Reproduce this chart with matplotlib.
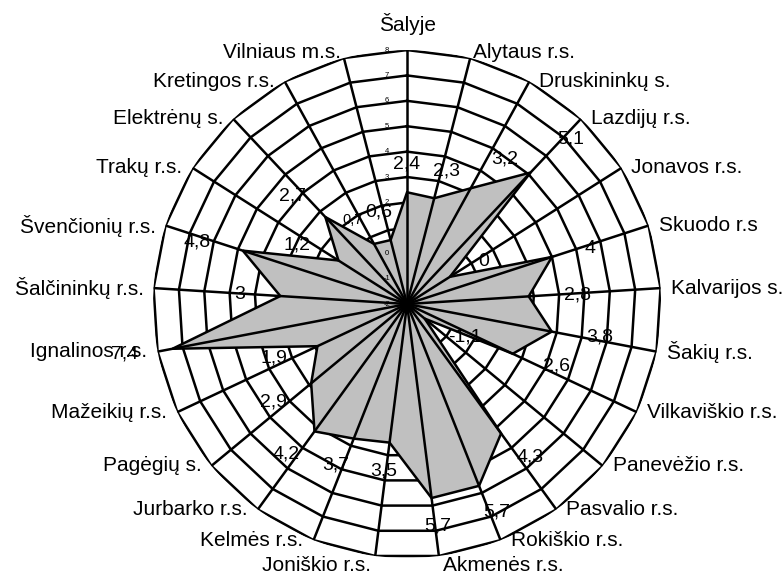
import numpy as np
import matplotlib
matplotlib.use("Agg")
import matplotlib.pyplot as plt

plt.rcParams['font.family'] = ['Liberation Sans', 'DejaVu Sans']

categories = ["Šalyje", "Alytaus r.s.", "Druskininkų s.", "Lazdijų r.s.", "Jonavos r.s.",
              "Skuodo r.s", "Kalvarijos s.", "Šakių r.s.", "Vilkaviškio r.s.", "Panevėžio r.s.",
              "Pasvalio r.s.", "Rokiškio r.s.", "Akmenės r.s.", "Joniškio r.s.", "Kelmės r.s.",
              "Jurbarko r.s.", "Pagėgių s.", "Mažeikių r.s.", "Ignalinos r.s.", "Šalčininkų r.s.",
              "Švenčionių r.s.", "Trakų r.s.", "Elektrėnų s.", "Kretingos r.s.", "Vilniaus m.s."]
values = [2.4, 2.3, 3.2, 5.1, 0.0, 4.0, 2.8, 3.8, 2.6, -1.1,
          4.3, 5.7, 5.7, 3.5, 3.7, 4.2, 2.9, 1.9, 7.4, 3.0,
          4.8, 1.2, 2.7, 0.7, 0.6]
ring_levels = [-1, 0, 1, 2, 3, 4, 5, 6, 7, 8]
tick_labels_shown = [-2, -1, 0, 2, 3, 4, 5, 6, 7, 8]
r_min, r_max = -2, 8


def fmt(v):
    return f"{v:g}".replace('.', ',')


n = len(categories)
theta = np.linspace(0, 2 * np.pi, n, endpoint=False)
theta_c = np.append(theta, theta[0])
vals_c = np.append(values, values[0])

fig = plt.figure(figsize=(7.84, 5.72), dpi=100)
ax = fig.add_axes([0.1952, 0.0245, 0.648, 0.888], projection='polar')
ax.set_theta_zero_location('N')
ax.set_theta_direction(-1)
ax.set_ylim(r_min, r_max)
ax.set_axis_off()

lw = 1.8
# polygon rings
for lev in ring_levels:
    ax.plot(theta_c, [lev] * len(theta_c), color='black', lw=lw, zorder=1,
            solid_joinstyle='miter')
# data polygon
ax.fill(theta_c, vals_c, facecolor='#C0C0C0', edgecolor='black', lw=lw, zorder=2,
        joinstyle='miter')
# spokes
for t in theta:
    ax.plot([t, t], [r_min, r_max], color='black', lw=lw, zorder=3)

# radial tick labels
for lev in tick_labels_shown:
    ax.annotate(str(lev), xy=(0, lev), xytext=(-20, 0), textcoords='offset pixels',
                ha='center', va='center', fontsize=5.5, zorder=6, annotation_clip=False)

# category labels
for t, name in zip(theta, categories):
    dx, dy = np.sin(t), np.cos(t)
    if dy > 0.99:
        off, ha, va = (0, 15), 'center', 'bottom'
    elif dy > 0.9:
        off, ha, va = (3 * np.sign(dx), 6), ('left' if dx > 0 else 'right'), 'center'
    elif dy < -0.95:
        off, ha, va = (4 * np.sign(dx), 0), ('left' if dx > 0 else 'right'), 'top'
    else:
        off, ha, va = (10 * np.sign(dx), 0), ('left' if dx > 0 else 'right'), 'center'
    ax.annotate(name, xy=(t, r_max), xytext=off, textcoords='offset pixels',
                ha=ha, va=va, fontsize=15, annotation_clip=False, zorder=6)

# value labels
small_font = {23: 10.5}
fixed_offset = {2: (34, 29), 3: (40, 34)}
anns = []
for i, (t, v) in enumerate(zip(theta, values)):
    fs = small_font.get(i, 14)
    a = ax.annotate(fmt(v), xy=(t, v), xytext=(0, 0), textcoords='offset pixels',
                    ha='center', va='center', fontsize=fs, annotation_clip=False, zorder=7)
    anns.append(a)

fig.canvas.draw()
renderer = fig.canvas.get_renderer()
for i, (t, a) in enumerate(zip(theta, anns)):
    if i in fixed_offset:
        a.xyann = fixed_offset[i]
        continue
    bb = a.get_window_extent(renderer)
    w, h = bb.width, bb.height
    dx, dy = np.sin(t), np.cos(t)
    a.xyann = (dx * (35 + w / 2), dy * (20 + h / 2))

fig.savefig('out.png', dpi=100)
